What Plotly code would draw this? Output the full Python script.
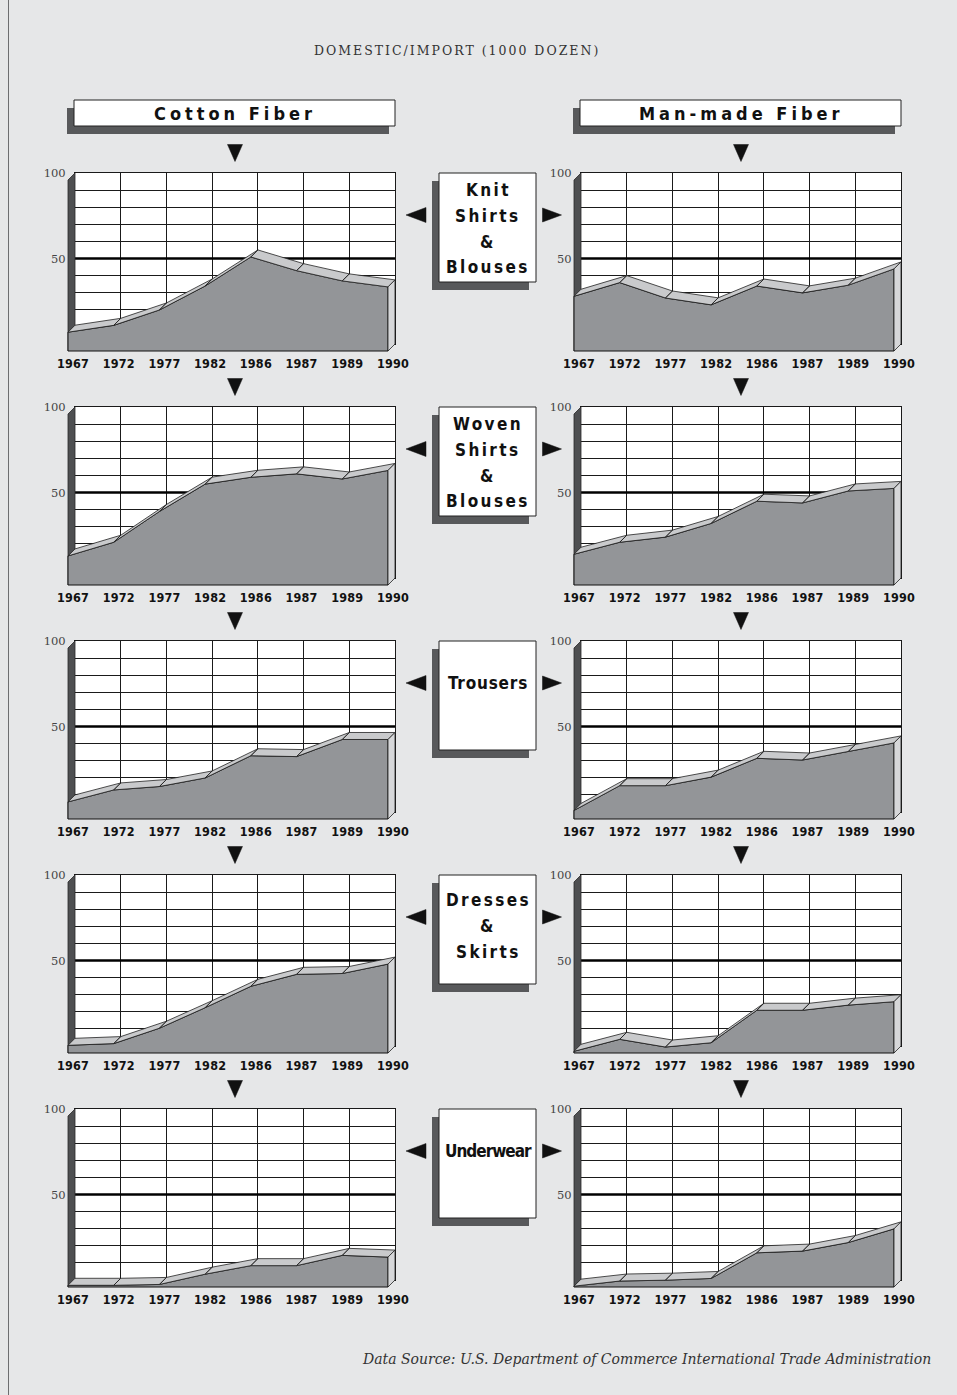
import plotly.graph_objects as go

# ---------------------------------------------------------------- data
years = ["1967", "1972", "1977", "1982", "1986", "1987", "1989", "1990"]

fiber_titles = ["Cotton Fiber", "Man-made Fiber"]

garment_labels = [
    ["Knit", "Shirts", "&", "Blouses"],
    ["Woven", "Shirts", "&", "Blouses"],
    ["Trousers"],
    ["Dresses", "&", "Skirts"],
    ["Underwear"],
]

# domestic / import share, one value per year
cotton_knit = [11, 15, 24, 38, 55, 47, 41, 37.5]
cotton_woven = [17, 25, 43, 59, 63, 65, 62, 67]
cotton_trousers = [10, 17, 19, 24, 37, 36.5, 46.5, 46.5]
cotton_dresses = [4.5, 5.5, 14.5, 26.5, 39, 46, 46.5, 52]
cotton_underwear = [1, 1, 1.5, 7.5, 12.5, 12.5, 18.5, 17.5]

manmade_knit = [32, 40, 31, 27, 38, 34, 38.5, 48]
manmade_woven = [18, 25, 28, 36, 49, 48, 55, 56.5]
manmade_trousers = [5, 19.5, 19.5, 24.5, 35.5, 34.5, 39.5, 44.5]
manmade_dresses = [1, 8, 3.5, 6, 25, 25, 28, 30]
manmade_underwear = [0.5, 3.5, 4, 5, 20, 21, 26, 34]

cotton_series = [cotton_knit, cotton_woven, cotton_trousers, cotton_dresses, cotton_underwear]
manmade_series = [manmade_knit, manmade_woven, manmade_trousers, manmade_dresses, manmade_underwear]
series_by_col = [cotton_series, manmade_series]

y_tick_vals = list(range(0, 101, 10))
y_tick_text = ["50" if v == 50 else "100" if v == 100 else "" for v in y_tick_vals]

# ---------------------------------------------------------------- style
W, H = 957, 1395
BG = "#e6e7e8"
GRID = "#1a1a1a"
AREA = "#939598"
RIBBON = "#c9cacc"
SIDE = "#d6d7d9"
WALL = "#4e4f51"
SHADOW = "#58595b"
INK = "#111111"
SERIF = "DejaVu Serif, Liberation Serif, serif"
HEAVY = "DejaVu Sans Condensed, Roboto, Liberation Sans, sans-serif"

COL_X = [75, 581]                          # left edge of each column's back wall (px)
ROW_T = [173 + 234 * r for r in range(5)]  # top of each row's back wall (px)
PW, PH, D, PAD = 320, 171, 7, 3            # wall width, wall height, depth, padding


def fx(x):
    return x / W


def fy(y):
    return 1 - y / H


def spaced(text, px):
    return f"<span style='letter-spacing:{px}px'>{text}</span>"


fig = go.Figure()
axes = {}
shapes = []
annotations = []

n_years = len(years)
ux = PW / (n_years - 1)
uy = PH / 100.0
dxu = D / ux
dyu = D / uy
last = n_years - 1

for r in range(5):
    for c in range(2):
        vals = series_by_col[c][r]
        T = ROW_T[r]
        bx = COL_X[c]
        b = 2 * (2 * r + c) + 1
        f = b + 1
        bs = "" if b == 1 else str(b)
        fs = str(f)

        # back wall with grid
        axes["xaxis" + bs] = dict(
            domain=[fx(bx), fx(bx + PW)], range=[0, last], anchor="y" + bs,
            tickvals=list(range(n_years)), showticklabels=False, ticks="",
            showgrid=True, gridcolor=GRID, gridwidth=1, zeroline=False,
            showline=True, mirror=True, linecolor=GRID, linewidth=1,
            automargin=False, fixedrange=True,
        )
        axes["yaxis" + bs] = dict(
            domain=[fy(T + PH), fy(T)], range=[0, 100], anchor="x" + bs,
            tickvals=y_tick_vals, ticktext=y_tick_text, ticks="",
            tickfont=dict(family=SERIF, size=11.5, color="#444444"),
            ticklabelstandoff=6,
            showgrid=True, gridcolor=GRID, gridwidth=1, zeroline=False,
            showline=True, mirror=True, linecolor=GRID, linewidth=1,
            automargin=False, fixedrange=True,
        )
        shapes.append(dict(type="rect", xref="x" + bs, yref="y" + bs, x0=0, x1=last, y0=0, y1=100,
                           fillcolor="white", line=dict(width=0), layer="below"))
        shapes.append(dict(type="line", xref="x" + bs, yref="y" + bs, x0=0, x1=last, y0=50, y1=50,
                           line=dict(color="#000000", width=2.6), layer="between"))

        # front plane: area, ribbon top, side walls
        axes["xaxis" + fs] = dict(
            domain=[fx(bx - D - PAD), fx(bx + PW + PAD)],
            range=[-PAD / ux, (PW + D + PAD) / ux], anchor="y" + fs,
            tickvals=list(range(n_years)),
            ticktext=[spaced(y, 0.2) for y in years],
            tickfont=dict(family=HEAVY, size=12.5, color=INK, weight="bold"),
            ticks="", showgrid=False, zeroline=False, showline=False,
            ticklabelstandoff=0, ticklabelshift=5, automargin=False, fixedrange=True,
        )
        axes["yaxis" + fs] = dict(
            domain=[fy(T + PH + D + PAD), fy(T - PAD)],
            range=[-PAD / uy, (PH + D + PAD) / uy], anchor="x" + fs,
            visible=False, automargin=False, fixedrange=True,
        )
        xr, yr = "x" + fs, "y" + fs

        fig.add_trace(go.Scatter(
            x=[0, 0, dxu, dxu, 0], y=[0, 100, 100 + dyu, dyu, 0],
            fill="toself", fillcolor=WALL, line=dict(color="#2a2a2a", width=0.8),
            mode="lines", hoverinfo="skip", xaxis=xr, yaxis=yr))

        ax = [0] + list(range(n_years)) + [last, 0]
        ay = [0] + list(vals) + [0, 0]
        fig.add_trace(go.Scatter(
            x=ax, y=ay, fill="toself", fillcolor=AREA,
            line=dict(color="#111111", width=1), mode="lines",
            hoverinfo="skip", xaxis=xr, yaxis=yr))

        rx, ry = [], []
        for i in range(last):
            rx += [i, i + 1, i + 1 + dxu, i + dxu, i, None]
            ry += [vals[i], vals[i + 1], vals[i + 1] + dyu, vals[i] + dyu, vals[i], None]
        fig.add_trace(go.Scatter(
            x=rx, y=ry, fill="toself", fillcolor=RIBBON,
            line=dict(color="#222222", width=0.8), mode="lines",
            hoverinfo="skip", xaxis=xr, yaxis=yr))

        fig.add_trace(go.Scatter(
            x=[last, last, last + dxu, last + dxu, last],
            y=[0, vals[last], vals[last] + dyu, dyu, 0],
            fill="toself", fillcolor=SIDE, line=dict(color="#222222", width=0.8),
            mode="lines", hoverinfo="skip", xaxis=xr, yaxis=yr))


def rect(x0, y0, x1, y1, fill, line_color=None, width=0):
    shapes.append(dict(type="rect", xref="paper", yref="paper",
                       x0=fx(x0), x1=fx(x1), y0=fy(y1), y1=fy(y0),
                       fillcolor=fill,
                       line=dict(color=line_color or fill, width=width), layer="above"))


def triangle(cx, cy, w, h, direction):
    if direction == "down":
        pts = [(cx - w / 2, cy - h / 2), (cx + w / 2, cy - h / 2), (cx, cy + h / 2)]
    elif direction == "left":
        pts = [(cx + w / 2, cy - h / 2), (cx + w / 2, cy + h / 2), (cx - w / 2, cy)]
    else:
        pts = [(cx - w / 2, cy - h / 2), (cx - w / 2, cy + h / 2), (cx + w / 2, cy)]
    path = "M " + " L ".join(f"{fx(x):.5f},{fy(y):.5f}" for x, y in pts) + " Z"
    shapes.append(dict(type="path", xref="paper", yref="paper", path=path,
                       fillcolor="#111111", line=dict(color="#111111", width=0.5), layer="above"))


# column headers
for c in range(2):
    bx = COL_X[c]
    rect(bx - 8, 108, bx + PW - 6, 134, SHADOW)
    rect(bx - 1, 100, bx + PW, 126, "white", "#222222", 1)
    annotations.append(dict(
        text=spaced(fiber_titles[c], 4), x=fx(bx + PW / 2), y=fy(113),
        xref="paper", yref="paper", showarrow=False, xanchor="center", yanchor="middle",
        font=dict(family=HEAVY, size=18, color=INK, weight="bold")))

# garment labels and arrows
label_spacing = {"Trousers": 0.8, "Underwear": -1.0}
for r in range(5):
    T = ROW_T[r]
    for c in range(2):
        triangle(COL_X[c] + PW / 2, T - 20, 15, 17, "down")
    triangle(416, T + 42, 20, 15, "left")
    triangle(552, T + 42, 19, 14, "right")

    rect(432, T + 8, 529, T + 117, SHADOW)
    rect(439, T, 536, T + 109, "white", "#222222", 1)
    lines = garment_labels[r]
    n = len(lines)
    cy = T + 42 + (n - 1) * 4.6
    for i, word in enumerate(lines):
        ls = label_spacing.get(word, 2.4)
        annotations.append(dict(
            text=spaced(word, ls), x=fx(488), y=fy(cy + (i - (n - 1) / 2) * 25.7),
            xref="paper", yref="paper", showarrow=False, xanchor="center", yanchor="middle",
            font=dict(family=HEAVY, size=17, color=INK, weight="bold")))

# page frame
shapes.append(dict(type="line", xref="paper", yref="paper", x0=fx(8.5), x1=fx(8.5), y0=0, y1=1,
                   line=dict(color="#6d6e70", width=1), layer="above"))

annotations.append(dict(
    text=spaced("DOMESTIC/IMPORT (1000 DOZEN)", 2.0), x=fx(457), y=fy(50),
    xref="paper", yref="paper", showarrow=False, xanchor="center", yanchor="middle",
    font=dict(family=SERIF, size=12.5, color="#333333")))
annotations.append(dict(
    text="<i>Data Source: U.S. Department of Commerce International Trade Administration</i>",
    x=fx(933), y=fy(1359), xref="paper", yref="paper", showarrow=False,
    xanchor="right", yanchor="middle",
    font=dict(family=SERIF, size=14, color="#333333")))

fig.update_layout(
    width=W, height=H, autosize=False,
    margin=dict(l=0, r=0, t=0, b=0, pad=0, autoexpand=False),
    paper_bgcolor=BG, plot_bgcolor="rgba(0,0,0,0)",
    showlegend=False, shapes=shapes, annotations=annotations,
    **axes,
)

fig.write_html("out.html", config={"displayModeBar": False})
